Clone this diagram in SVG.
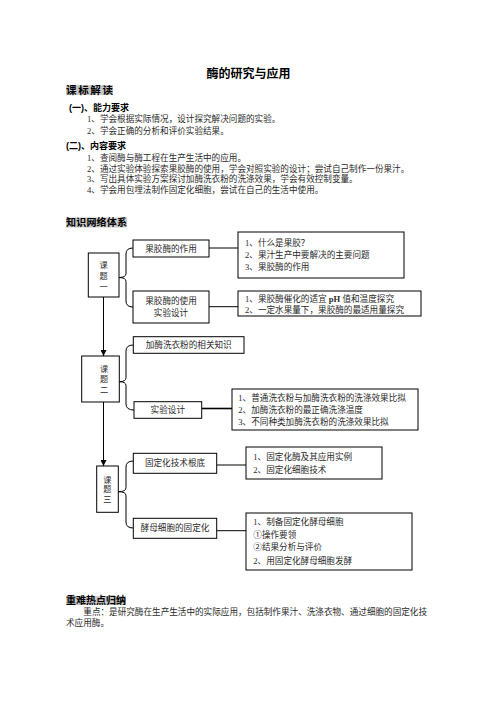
<svg xmlns="http://www.w3.org/2000/svg" width="496" height="702" viewBox="0 0 496 702">
<defs>
<style>
.t{font-family:"Liberation Serif","Noto Sans CJK SC",serif;font-size:8.6px;fill:#2a2a2a}
.v{font-family:"Liberation Serif","Noto Sans CJK SC",serif;font-size:8.2px;fill:#2a2a2a;text-anchor:middle}
.h{font-family:"Liberation Sans","Noto Sans CJK SC",sans-serif;font-weight:bold;fill:#000}
.bx{fill:#fff;stroke:#000;stroke-width:1}
.ln{fill:none;stroke:#000;stroke-width:1}
.hl{fill:#c8c8c8}
.c{text-anchor:middle}
</style>
<marker id="arr" viewBox="0 0 8 8" refX="8" refY="4" markerWidth="6" markerHeight="6" orient="auto" markerUnits="userSpaceOnUse">
<path d="M0,0 L8,4 L0,8 Z" fill="#000"/>
</marker>
</defs>
<rect width="496" height="702" fill="#fff"/>

<g id="header">
<text x="248.5" y="77.5" class="h c" font-size="12">酶的研究与应用</text>
<rect class="hl" x="66" y="85" width="47" height="10"/>
<text x="66" y="94" class="h" font-size="10.5" textLength="47">课标解读</text>
<text x="69" y="110.5" class="h" font-size="9">(一)、能力要求</text>
<text x="87" y="121.5" class="t">1、学会根据实际情况，设计探究解决问题的实验。</text>
<text x="87" y="133.5" class="t">2、学会正确的分析和评价实验结果。</text>
<text x="66" y="148.5" class="h" font-size="9">(二)、内容要求</text>
<text x="87" y="160.5" class="t">1、查阅酶与酶工程在生产生活中的应用。</text>
<text x="87" y="171.5" class="t">2、通过实验体验探索果胶酶的使用，学会对照实验的设计；尝试自己制作一份果汁。</text>
<text x="87" y="182" class="t">3、写出具体实验方案探讨加酶洗衣粉的洗涤效果，学会有效控制变量。</text>
<text x="87" y="193" class="t">4、学会用包埋法制作固定化细胞，尝试在自己的生活中使用。</text>
<rect class="hl" x="66" y="217.5" width="61" height="10"/>
<text x="66" y="226" class="h" font-size="10" textLength="61">知识网络体系</text>
</g>

<g id="connectors">
<line class="ln" x1="103.5" y1="297" x2="103.5" y2="356" marker-end="url(#arr)"/>
<line class="ln" x1="103.5" y1="402" x2="103.5" y2="466" marker-end="url(#arr)"/>
<path class="ln" d="M133,248 Q126,248 126,254 L126,273.5 Q126,277.5 119,277.5 Q126,277.5 126,281.5 L126,301 Q126,307 133,307"/>
<path class="ln" d="M133.3,345 Q126,345 126,351 L126,377.7 Q126,381.7 119.3,381.7 Q126,381.7 126,385.7 L126,404 Q126,410 134,410"/>
<path class="ln" d="M133.3,461 Q126,461 126,467 L126,487.7 Q126,491.7 118.3,491.7 Q126,491.7 126,495.7 L126,522 Q126,528 133.3,528"/>
<line class="ln" x1="209" y1="248" x2="238" y2="248"/>
<line class="ln" x1="209" y1="306.7" x2="238" y2="306.7"/>
<line x1="201.7" y1="408.5" x2="232" y2="408.5" stroke="#000" stroke-width="1.6"/>
<line class="ln" x1="216.7" y1="465" x2="246" y2="465"/>
<line class="ln" x1="216.7" y1="530.7" x2="246" y2="530.7"/>
</g>

<g id="topic1">
<rect class="bx" x="88.3" y="253" width="30.7" height="44"/>
<text x="103.7" y="267.5" class="v">课</text>
<text x="103.7" y="278.5" class="v">题</text>
<text x="103.7" y="289.5" class="v">一</text>
</g>
<g id="n-guojiaomei-zuoyong">
<rect class="bx" x="133" y="240" width="76" height="17"/>
<text x="171" y="251.5" class="t c">果胶酶的作用</text>
</g>
<g id="d1">
<rect class="bx" x="238" y="232" width="166" height="46"/>
<text x="245" y="246.3" class="t">1、什么是果胶？</text>
<text x="245" y="258" class="t">2、果汁生产中要解决的主要问题</text>
<text x="245" y="269.7" class="t">3、果胶酶的作用</text>
</g>
<g id="n-guojiaomei-shiyong">
<rect class="bx" x="133" y="291" width="76" height="32"/>
<text x="171" y="304" class="t c">果胶酶的使用</text>
<text x="171" y="316.3" class="t c">实验设计</text>
</g>
<g id="d2">
<rect class="bx" x="238" y="291" width="183" height="25"/>
<text x="245" y="301.8" class="t">1、果胶酶催化的适宜 <tspan font-weight="bold">pH</tspan> 值和温度探究</text>
<text x="245" y="312.5" class="t">2、一定水果量下，果胶酶的最适用量探究</text>
</g>

<g id="topic2">
<rect class="bx" x="81.7" y="356" width="37.6" height="46"/>
<text x="104" y="371.5" class="v">课</text>
<text x="104" y="382" class="v">题</text>
<text x="104" y="392.5" class="v">二</text>
</g>
<g id="n-jiamei-zhishi">
<rect class="bx" x="133.3" y="336.7" width="110.7" height="16.6"/>
<text x="188.7" y="348" class="t c">加酶洗衣粉的相关知识</text>
</g>
<g id="n-shiyan-sheji">
<rect class="bx" x="134" y="401.7" width="67.7" height="16.6"/>
<text x="167.8" y="413" class="t c">实验设计</text>
</g>
<g id="d3">
<rect class="bx" x="232" y="389" width="186" height="41"/>
<text x="238.3" y="401.3" class="t">1、普通洗衣粉与加酶洗衣粉的洗涤效果比拟</text>
<text x="238.3" y="413" class="t">2、加酶洗衣粉的最正确洗涤温度</text>
<text x="238.3" y="424.7" class="t">3、不同种类加酶洗衣粉的洗涤效果比拟</text>
</g>

<g id="topic3">
<rect class="bx" x="96.7" y="466" width="21.6" height="46.3"/>
<text x="107.3" y="482.5" class="v">课</text>
<text x="107.3" y="492" class="v">题</text>
<text x="107.3" y="501.5" class="v">三</text>
</g>
<g id="n-gudinghua-gendi">
<rect class="bx" x="133.3" y="453.3" width="83.4" height="20"/>
<text x="175" y="466.3" class="t c">固定化技术根底</text>
</g>
<g id="d4">
<rect class="bx" x="246" y="447" width="136" height="32"/>
<text x="253.3" y="459.7" class="t">1、固定化酶及其应用实例</text>
<text x="253.3" y="473" class="t">2、固定化细胞技术</text>
</g>
<g id="n-jiaomu-gudinghua">
<rect class="bx" x="133.3" y="518.3" width="83.4" height="20"/>
<text x="175" y="531.3" class="t c">酵母细胞的固定化</text>
</g>
<g id="d5">
<rect class="bx" x="246" y="513" width="166" height="57"/>
<text x="253.3" y="524.7" class="t">1、制备固定化酵母细胞</text>
<text x="253.3" y="538" class="t">①操作要领</text>
<text x="253.3" y="550.3" class="t">②结果分析与评价</text>
<text x="253.3" y="563.7" class="t">2、用固定化酵母细胞发酵</text>
</g>

<g id="footer">
<rect class="hl" x="66" y="596" width="60" height="9"/>
<text x="66" y="604" class="h" font-size="10" textLength="60">重难热点归纳</text>
<text x="83.3" y="614.5" class="t">重点：是研究酶在生产生活中的实际应用，包括制作果汁、洗涤衣物、通过细胞的固定化技</text>
<text x="66" y="626" class="t">术应用酶。</text>
</g>
</svg>
